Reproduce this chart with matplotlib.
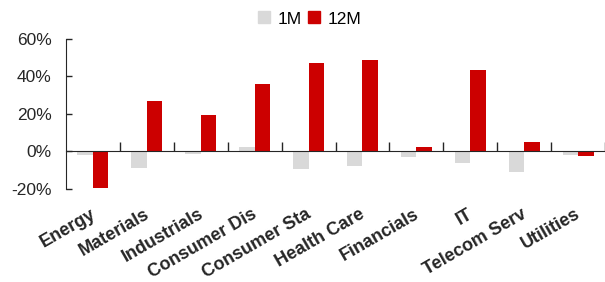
import matplotlib
matplotlib.use("Agg")
import matplotlib.pyplot as plt
import numpy as np
from matplotlib.patches import Patch
from matplotlib.transforms import blended_transform_factory, ScaledTranslation

plt.rcParams['font.family'] = ['Liberation Sans', 'DejaVu Sans']

sectors = ["Energy", "Materials", "Industrials", "Consumer Dis", "Consumer Sta",
           "Health Care", "Financials", "IT", "Telecom Serv", "Utilities"]
ret_1m = [-2.2, -8.8, -1.2, 2.1, -9.7, -8.0, -3.2, -6.3, -11.3, -2.0]
ret_12m = [-19.7, 26.7, 19.3, 35.8, 47.4, 49.0, 2.1, 43.2, 5.1, -2.3]

grey = "#D9D9D9"
red = "#CC0000"
ink = "#262626"

fig = plt.figure(figsize=(6.05, 2.82), dpi=100)
ax = fig.add_axes([66 / 605, 1 - 188.7 / 282, 539 / 605, 149.7 / 282])

x = np.arange(len(sectors))
w = 0.288
ax.bar(x - w / 2, np.array(ret_1m) / 100, w, color=grey, label="1M")
ax.bar(x + w / 2, np.array(ret_12m) / 100, w, color=red, label="12M")

ax.set_xlim(-0.5, 9.5)
ax.set_ylim(-0.2, 0.6)
ax.set_yticks([-0.2, 0, 0.2, 0.4, 0.6])
ax.set_yticklabels(["-20%", "0%", "20%", "40%", "60%"], fontsize=12.5, color=ink)
ax.tick_params(axis='y', direction='in', length=4.3, width=1, color=ink, pad=10.5)

ax.spines['top'].set_visible(False)
ax.spines['right'].set_visible(False)
ax.spines['left'].set_color(ink)
ax.spines['bottom'].set_position(('data', 0))
ax.spines['bottom'].set_color(ink)

# category boundary ticks on the zero line
ax.set_xticks([])
ax.set_xticks(np.arange(0.5, 10, 1), minor=True)
ax.tick_params(axis='x', which='minor', direction='in', length=6.2, width=1,
               color=ink, labelbottom=False)

trans = blended_transform_factory(ax.transData, ax.transAxes)
shift = ScaledTranslation(-3 / 100, -17 / 100, fig.dpi_scale_trans)
for i, name in enumerate(sectors):
    ax.text(i, 0.0, name, transform=trans + shift, rotation=30, rotation_mode='anchor',
            ha='right', va='top', fontsize=13, fontweight='bold', color=ink)

handles = [Patch(color=grey), Patch(color=red)]
fig.legend(handles, ["1M", "12M"], loc='center left', bbox_to_anchor=(258 / 605, 1 - 19 / 282),
           ncol=2, frameon=False, fontsize=12.5, handlelength=0.69, handleheight=0.69,
           handletextpad=0.44, columnspacing=0.38, borderpad=0, borderaxespad=0)

fig.savefig("out.png", dpi=100)
